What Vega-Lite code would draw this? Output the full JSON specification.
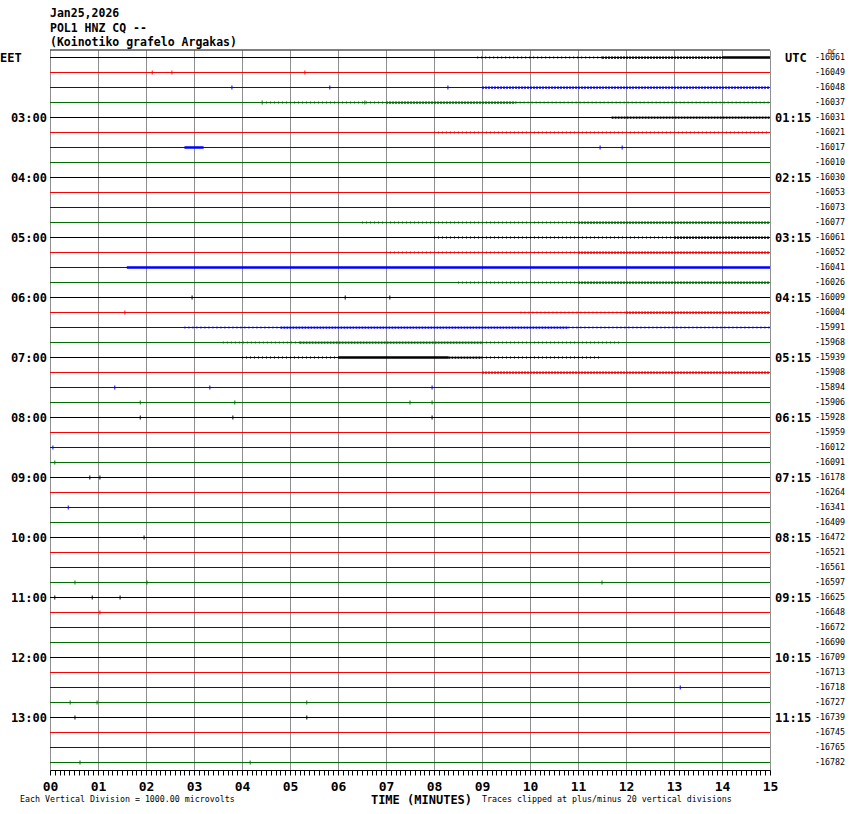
{
  "$schema": "https://vega.github.io/schema/vega-lite/v6.json",
  "width": 720,
  "height": 720,
  "autosize": "none",
  "padding": {"left": 50, "top": 50, "right": 80, "bottom": 44},
  "background": "white",
  "config": {"view": {"stroke": null}},
  "title": {
    "text": ["Jan25,2026", "POL1 HNZ CQ --", "(Koinotiko grafelo Argakas)"],
    "anchor": "start",
    "frame": "group",
    "font": "DejaVu Sans Mono",
    "fontSize": 11.5,
    "fontWeight": "bold",
    "lineHeight": 14.5,
    "offset": 0,
    "color": "black"
  },
  "datasets": {
    "traces": [
      {"i": 0, "dc": "-16061", "eet": "", "utc": ""},
      {"i": 1, "dc": "-16049", "eet": "", "utc": ""},
      {"i": 2, "dc": "-16048", "eet": "", "utc": ""},
      {"i": 3, "dc": "-16037", "eet": "", "utc": ""},
      {"i": 4, "dc": "-16031", "eet": "03:00", "utc": "01:15"},
      {"i": 5, "dc": "-16021", "eet": "", "utc": ""},
      {"i": 6, "dc": "-16017", "eet": "", "utc": ""},
      {"i": 7, "dc": "-16010", "eet": "", "utc": ""},
      {"i": 8, "dc": "-16030", "eet": "04:00", "utc": "02:15"},
      {"i": 9, "dc": "-16053", "eet": "", "utc": ""},
      {"i": 10, "dc": "-16073", "eet": "", "utc": ""},
      {"i": 11, "dc": "-16077", "eet": "", "utc": ""},
      {"i": 12, "dc": "-16061", "eet": "05:00", "utc": "03:15"},
      {"i": 13, "dc": "-16052", "eet": "", "utc": ""},
      {"i": 14, "dc": "-16041", "eet": "", "utc": ""},
      {"i": 15, "dc": "-16026", "eet": "", "utc": ""},
      {"i": 16, "dc": "-16009", "eet": "06:00", "utc": "04:15"},
      {"i": 17, "dc": "-16004", "eet": "", "utc": ""},
      {"i": 18, "dc": "-15991", "eet": "", "utc": ""},
      {"i": 19, "dc": "-15968", "eet": "", "utc": ""},
      {"i": 20, "dc": "-15939", "eet": "07:00", "utc": "05:15"},
      {"i": 21, "dc": "-15908", "eet": "", "utc": ""},
      {"i": 22, "dc": "-15894", "eet": "", "utc": ""},
      {"i": 23, "dc": "-15906", "eet": "", "utc": ""},
      {"i": 24, "dc": "-15928", "eet": "08:00", "utc": "06:15"},
      {"i": 25, "dc": "-15959", "eet": "", "utc": ""},
      {"i": 26, "dc": "-16012", "eet": "", "utc": ""},
      {"i": 27, "dc": "-16091", "eet": "", "utc": ""},
      {"i": 28, "dc": "-16178", "eet": "09:00", "utc": "07:15"},
      {"i": 29, "dc": "-16264", "eet": "", "utc": ""},
      {"i": 30, "dc": "-16341", "eet": "", "utc": ""},
      {"i": 31, "dc": "-16409", "eet": "", "utc": ""},
      {"i": 32, "dc": "-16472", "eet": "10:00", "utc": "08:15"},
      {"i": 33, "dc": "-16521", "eet": "", "utc": ""},
      {"i": 34, "dc": "-16561", "eet": "", "utc": ""},
      {"i": 35, "dc": "-16597", "eet": "", "utc": ""},
      {"i": 36, "dc": "-16625", "eet": "11:00", "utc": "09:15"},
      {"i": 37, "dc": "-16648", "eet": "", "utc": ""},
      {"i": 38, "dc": "-16672", "eet": "", "utc": ""},
      {"i": 39, "dc": "-16690", "eet": "", "utc": ""},
      {"i": 40, "dc": "-16709", "eet": "12:00", "utc": "10:15"},
      {"i": 41, "dc": "-16713", "eet": "", "utc": ""},
      {"i": 42, "dc": "-16718", "eet": "", "utc": ""},
      {"i": 43, "dc": "-16727", "eet": "", "utc": ""},
      {"i": 44, "dc": "-16739", "eet": "13:00", "utc": "11:15"},
      {"i": 45, "dc": "-16745", "eet": "", "utc": ""},
      {"i": 46, "dc": "-16765", "eet": "", "utc": ""},
      {"i": 47, "dc": "-16782", "eet": "", "utc": ""}
    ],
    "noise": [
      {"i": 0, "x0": 8.9, "x1": 11.5, "level": "light"},
      {"i": 0, "x0": 11.5, "x1": 14.0, "level": "medium"},
      {"i": 0, "x0": 14.0, "x1": 15.0, "level": "heavy"},
      {"i": 2, "x0": 9.0, "x1": 15.0, "level": "medium"},
      {"i": 3, "x0": 4.5, "x1": 7.0, "level": "light"},
      {"i": 3, "x0": 7.0, "x1": 9.7, "level": "medium"},
      {"i": 3, "x0": 9.7, "x1": 15.0, "level": "light"},
      {"i": 4, "x0": 11.7, "x1": 15.0, "level": "medium"},
      {"i": 5, "x0": 8.0, "x1": 15.0, "level": "light"},
      {"i": 6, "x0": 2.8, "x1": 3.2, "level": "heavy"},
      {"i": 11, "x0": 6.5, "x1": 11.0, "level": "light"},
      {"i": 11, "x0": 11.0, "x1": 15.0, "level": "medium"},
      {"i": 12, "x0": 8.0, "x1": 13.0, "level": "light"},
      {"i": 12, "x0": 13.0, "x1": 15.0, "level": "medium"},
      {"i": 13, "x0": 7.0, "x1": 11.0, "level": "light"},
      {"i": 13, "x0": 11.0, "x1": 15.0, "level": "medium"},
      {"i": 14, "x0": 1.6, "x1": 15.0, "level": "heavy"},
      {"i": 15, "x0": 8.5, "x1": 11.0, "level": "light"},
      {"i": 15, "x0": 11.0, "x1": 15.0, "level": "medium"},
      {"i": 17, "x0": 9.8, "x1": 12.0, "level": "light"},
      {"i": 17, "x0": 12.0, "x1": 15.0, "level": "medium"},
      {"i": 18, "x0": 2.8, "x1": 4.8, "level": "light"},
      {"i": 18, "x0": 4.8, "x1": 10.8, "level": "medium"},
      {"i": 18, "x0": 10.8, "x1": 15.0, "level": "light"},
      {"i": 19, "x0": 3.6, "x1": 5.2, "level": "light"},
      {"i": 19, "x0": 5.2, "x1": 9.0, "level": "medium"},
      {"i": 19, "x0": 9.0, "x1": 11.9, "level": "light"},
      {"i": 20, "x0": 4.0, "x1": 6.0, "level": "light"},
      {"i": 20, "x0": 6.0, "x1": 8.3, "level": "heavy"},
      {"i": 20, "x0": 8.3, "x1": 9.0, "level": "medium"},
      {"i": 20, "x0": 9.0, "x1": 11.5, "level": "light"},
      {"i": 21, "x0": 9.0, "x1": 15.0, "level": "medium"}
    ],
    "spikes": [
      {"i": 1, "x": 2.13}, {"i": 1, "x": 2.54}, {"i": 1, "x": 5.31},
      {"i": 2, "x": 3.79}, {"i": 2, "x": 5.83}, {"i": 2, "x": 8.29},
      {"i": 3, "x": 4.42}, {"i": 3, "x": 6.56},
      {"i": 6, "x": 11.46}, {"i": 6, "x": 11.92},
      {"i": 16, "x": 2.96}, {"i": 16, "x": 6.15}, {"i": 16, "x": 7.08},
      {"i": 17, "x": 1.56},
      {"i": 22, "x": 1.35}, {"i": 22, "x": 3.33}, {"i": 22, "x": 7.96},
      {"i": 23, "x": 1.88}, {"i": 23, "x": 3.85}, {"i": 23, "x": 7.5}, {"i": 23, "x": 7.96},
      {"i": 24, "x": 1.88}, {"i": 24, "x": 3.81}, {"i": 24, "x": 7.96},
      {"i": 26, "x": 0.06}, {"i": 27, "x": 0.1},
      {"i": 28, "x": 0.83}, {"i": 28, "x": 1.04},
      {"i": 30, "x": 0.38}, {"i": 32, "x": 1.96},
      {"i": 35, "x": 0.52}, {"i": 35, "x": 2.02}, {"i": 35, "x": 11.5},
      {"i": 36, "x": 0.1}, {"i": 36, "x": 0.88}, {"i": 36, "x": 1.46},
      {"i": 37, "x": 1.04}, {"i": 42, "x": 13.13},
      {"i": 43, "x": 0.42}, {"i": 43, "x": 0.98}, {"i": 43, "x": 5.35},
      {"i": 44, "x": 0.52}, {"i": 44, "x": 5.35},
      {"i": 47, "x": 0.625}, {"i": 47, "x": 4.17}
    ]
  },
  "layer": [
    {
      "data": {"name": "traces"},
      "mark": {"type": "rule", "strokeWidth": 1},
      "encoding": {
        "x": {
          "datum": 0, "type": "quantitative",
          "scale": {"domain": [0, 15], "nice": false, "zero": false},
          "axis": {
            "title": "TIME (MINUTES)",
            "tickCount": 150,
            "labelExpr": "abs(datum.value-round(datum.value))<0.01 ? (datum.value<9.5?'0':'')+round(datum.value) : ''",
            "labelOverlap": false,
            "labelFlush": false,
            "grid": true,
            "gridColor": "#8f8f8f",
            "gridWidth": 1,
            "gridOpacity": {"condition": {"test": "abs(datum.value-round(datum.value))<0.01", "value": 1}, "value": 0},
            "domainColor": "black",
            "tickColor": "black",
            "tickSize": 5,
            "labelFont": "DejaVu Sans Mono",
            "labelFontWeight": "bold",
            "labelFontSize": 13,
            "labelColor": "black",
            "labelPadding": 5,
            "titleFont": "DejaVu Sans Mono",
            "titleFontWeight": "bold",
            "titleFontSize": 12,
            "titleColor": "black",
            "titleX": 371,
            "titleY": 29,
            "titleBaseline": "middle"
          }
        },
        "x2": {"datum": 15},
        "y": {"field": "i", "type": "quantitative", "scale": {"domain": [-0.5, 47.5], "reverse": true, "nice": false, "zero": false}, "axis": null},
        "color": {
          "field": "i", "type": "ordinal",
          "scale": {
            "domain": [0,1,2,3,4,5,6,7,8,9,10,11,12,13,14,15,16,17,18,19,20,21,22,23,24,25,26,27,28,29,30,31,32,33,34,35,36,37,38,39,40,41,42,43,44,45,46,47],
            "range": ["#000000", "#ff0000", "#0000ff", "#006f00"]
          },
          "legend": null
        }
      }
    },
    {
      "data": {"name": "noise"},
      "mark": {"type": "rule"},
      "encoding": {
        "x": {"field": "x0", "type": "quantitative"},
        "x2": {"field": "x1"},
        "y": {"field": "i", "type": "quantitative", "axis": null},
        "color": {"field": "i", "type": "ordinal", "legend": null},
        "strokeWidth": {"field": "level", "type": "ordinal", "scale": {"domain": ["light", "medium", "heavy"], "range": [2, 2.5, 3]}, "legend": null},
        "strokeDash": {"field": "level", "type": "ordinal", "scale": {"domain": ["light", "medium", "heavy"], "range": [[1, 3], [2, 1], [1, 0]]}, "legend": null}
      }
    },
    {
      "data": {"name": "spikes"},
      "mark": {"type": "tick", "orient": "vertical", "size": 4, "thickness": 1, "opacity": 1},
      "encoding": {
        "x": {"field": "x", "type": "quantitative"},
        "y": {"field": "i", "type": "quantitative", "axis": null},
        "color": {"field": "i", "type": "ordinal", "legend": null}
      }
    },
    {
      "data": {"values": [{}]},
      "mark": {"type": "rule", "color": "black", "strokeWidth": 1},
      "encoding": {
        "x": {"datum": 0, "type": "quantitative"},
        "x2": {"datum": 15},
        "y": {"datum": -0.5, "type": "quantitative", "axis": null}
      }
    },
    {
      "data": {"name": "traces"},
      "transform": [{"filter": "datum.eet != ''"}],
      "mark": {"type": "text", "align": "right", "baseline": "middle", "dx": -3, "font": "DejaVu Sans Mono", "fontWeight": "bold", "fontSize": 12, "color": "black"},
      "encoding": {
        "x": {"datum": 0, "type": "quantitative"},
        "y": {"field": "i", "type": "quantitative", "axis": null},
        "text": {"field": "eet", "type": "nominal"}
      }
    },
    {
      "data": {"name": "traces"},
      "transform": [{"filter": "datum.utc != ''"}],
      "mark": {"type": "text", "align": "left", "baseline": "middle", "dx": 5, "font": "DejaVu Sans Mono", "fontWeight": "bold", "fontSize": 12, "color": "black"},
      "encoding": {
        "x": {"datum": 15, "type": "quantitative"},
        "y": {"field": "i", "type": "quantitative", "axis": null},
        "text": {"field": "utc", "type": "nominal"}
      }
    },
    {
      "data": {"name": "traces"},
      "mark": {"type": "text", "align": "left", "baseline": "middle", "dx": 45, "font": "DejaVu Sans Mono", "fontSize": 8.3, "color": "black"},
      "encoding": {
        "x": {"datum": 15, "type": "quantitative"},
        "y": {"field": "i", "type": "quantitative", "axis": null},
        "text": {"field": "dc", "type": "nominal"}
      }
    },
    {
      "data": {"values": [{}]},
      "mark": {"type": "text", "align": "left", "baseline": "middle", "dx": -50, "font": "DejaVu Sans Mono", "fontWeight": "bold", "fontSize": 12, "color": "black", "text": "EET"},
      "encoding": {
        "x": {"datum": 0, "type": "quantitative"},
        "y": {"datum": 0, "type": "quantitative", "axis": null}
      }
    },
    {
      "data": {"values": [{}]},
      "mark": {"type": "text", "align": "left", "baseline": "middle", "dx": 15, "font": "DejaVu Sans Mono", "fontWeight": "bold", "fontSize": 12, "color": "black", "text": "UTC"},
      "encoding": {
        "x": {"datum": 15, "type": "quantitative"},
        "y": {"datum": 0, "type": "quantitative", "axis": null}
      }
    },
    {
      "data": {"values": [{}]},
      "mark": {"type": "text", "align": "left", "baseline": "middle", "dx": 58, "dy": -6, "font": "DejaVu Sans Mono", "fontSize": 6.5, "color": "black", "text": "DC"},
      "encoding": {
        "x": {"datum": 15, "type": "quantitative"},
        "y": {"datum": 0, "type": "quantitative", "axis": null}
      }
    },
    {
      "data": {"values": [{}]},
      "mark": {"type": "text", "align": "left", "baseline": "middle", "dx": -30, "dy": 30, "font": "DejaVu Sans Mono", "fontSize": 8.3, "color": "black", "text": "Each Vertical Division = 1000.00 microvolts"},
      "encoding": {
        "x": {"datum": 0, "type": "quantitative"},
        "y": {"datum": 47.5, "type": "quantitative", "axis": null}
      }
    },
    {
      "data": {"values": [{}]},
      "mark": {"type": "text", "align": "left", "baseline": "middle", "dx": 0, "dy": 30, "font": "DejaVu Sans Mono", "fontSize": 8.3, "color": "black", "text": "Traces clipped at plus/minus 20 vertical divisions"},
      "encoding": {
        "x": {"datum": 9, "type": "quantitative"},
        "y": {"datum": 47.5, "type": "quantitative", "axis": null}
      }
    }
  ]
}
